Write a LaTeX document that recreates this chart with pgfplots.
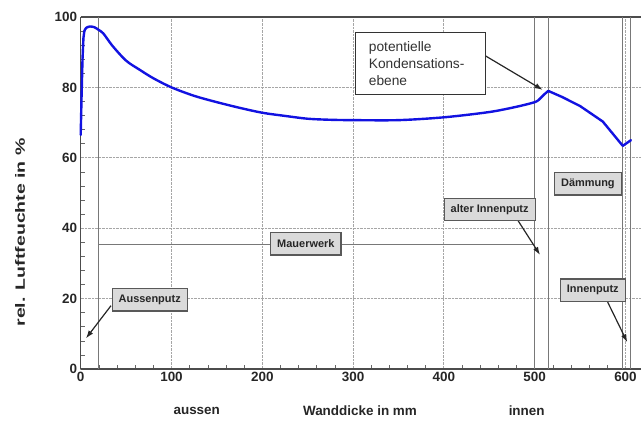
\documentclass[border=0pt]{standalone}
\usepackage{pgfplots}
\pgfplotsset{compat=1.18}
\usepackage{graphicx}
\usepackage{fontspec}
\setmainfont{Liberation Sans}
\usetikzlibrary{arrows.meta}
\definecolor{curve}{RGB}{18,18,225}
\definecolor{vline}{RGB}{120,120,120}
\definecolor{boxfill}{RGB}{218,218,218}
\tikzset{
 gbox/.style={draw=black!65, fill=boxfill, line width=1.2bp, font=\fontsize{11}{13}\selectfont\bfseries, text=black!85, inner xsep=6.5bp, minimum height=22.5bp},
 arr/.style={-{Latex[length=8bp,width=5.5bp]}, line width=1.2bp, black!85},
 xlab/.style={font=\fontsize{13.5}{16}\selectfont\bfseries, text=black!85, yshift=-42bp}
}
\begin{document}
\begin{tikzpicture}
\path[use as bounding box] (-80.7bp,-52bp) rectangle (560.3bp,369bp);
\begin{axis}[
 at={(0,0)}, anchor=south west,
 scale only axis, width=560.3bp, height=352bp,
 xmin=0, xmax=617.1, ymin=0, ymax=100,
 xtick={0,100,...,600}, ytick={0,20,...,100},
 minor x tick num=4, minor y tick num=4,
 axis x line*=bottom, axis y line*=left,
 axis line style={draw=black!70, line width=1.1bp, -},
 tick align=inside, major tick length=0bp, minor tick length=4bp,
 tick style={black!60, line width=0.6bp},
 grid=major, major grid style={densely dotted, black!35, line width=0.8bp},
 ticklabel style={font=\fontsize{13.5}{16}\selectfont\bfseries, text=black!85},
 /pgf/number format/assume math mode=true,
 clip=false,
]
\draw[black!70, line width=1.1bp] (rel axis cs:0,1) -- (rel axis cs:1,1);
\addplot[vline, line width=0.9bp, forget plot] coordinates {(20,0) (20,100)};
\addplot[vline, line width=0.9bp, forget plot] coordinates {(500,0) (500,100)};
\addplot[vline, line width=0.9bp, forget plot] coordinates {(515,0) (515,100)};
\addplot[vline, line width=0.9bp, forget plot] coordinates {(597,0) (597,100)};
\addplot[vline, line width=0.9bp, forget plot] coordinates {(605,0) (605,100)};
\addplot[vline, line width=0.9bp, forget plot] coordinates {(20,35.5) (500,35.5)};

% humidity profile: steep outer rise, smooth wall section, straight insulation section
\addplot[curve, line width=2.4bp, line join=round, line cap=round, forget plot] coordinates {
(0,66.5) (1,78) (2,88) (3,94) (4,96)
};
\addplot[curve, line width=2.4bp, line join=round, line cap=round, smooth, tension=0.5, forget plot] coordinates {
(4,96) (6,96.9) (10,97.3) (15,97.1) (20,96.3) (25,95.3) (35,91.8) (50,87.6)
(65,85.0) (80,82.6) (100,80.0) (125,77.6) (150,75.8) (175,74.2) (200,72.8)
(225,71.9) (250,71.1) (275,70.8) (300,70.7) (350,70.7) (400,71.5) (450,73.0)
(480,74.5) (500,75.8) (505,76.6)
};
\addplot[curve, line width=2.4bp, line join=round, line cap=round] coordinates {
(505,76.6) (510,77.9) (515,79.0) (530,77.3) (550,74.7) (575,70.3) (597,63.4) (606,65.0)
};

% axis texts
\node[xlab] at (axis cs:127.8,0) {aussen};
\node[xlab] at (axis cs:307.6,0) {Wanddicke in mm};
\node[xlab] at (axis cs:491.2,0) {innen};
\node[rotate=90, font=\fontsize{13.5}{16}\selectfont\bfseries, text=black!85] at (rel axis cs:-0.108,0.388) {\scalebox{1.45}[1]{rel. Luftfeuchte in \%}};

% annotations
\draw[arr] (axis cs:445.5,89.0) -- (axis cs:508.8,79.3);
\node[draw=black!80, fill=white, line width=1bp, font=\fontsize{13.8}{17}\selectfont, text=black!80, text width=104bp, align=left, inner xsep=13bp, inner ysep=9bp] at (axis cs:374.7,86.7) {potentielle\\Kondensations-\\ebene};

\node[gbox] at (axis cs:248,35.6) {Mauerwerk};
\node[gbox] at (axis cs:558.6,52.6) {Dämmung};

\draw[arr] (axis cs:481.3,42.3) -- (axis cs:505.9,32.4);
\node[gbox] at (axis cs:450.4,45.3) {alter Innenputz};

\draw[arr] (axis cs:33.4,18) -- (axis cs:5.8,8.7);
\node[gbox] at (axis cs:76,19.7) {Aussenputz};

\draw[arr] (axis cs:580.4,19) -- (axis cs:602,7.6);
\node[gbox] at (axis cs:564,22.4) {Innenputz};
\end{axis}
\end{tikzpicture}
\end{document}
